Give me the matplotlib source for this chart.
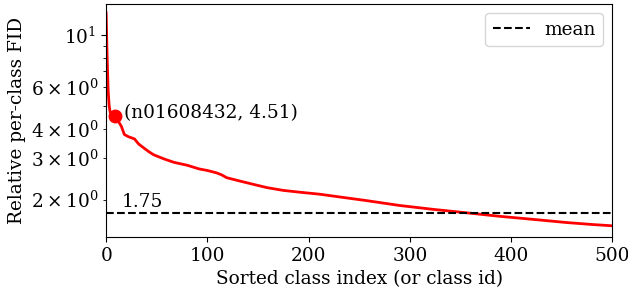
import matplotlib.pyplot as plt
import numpy as np

plt.rcParams["font.family"] = "DejaVu Serif"
plt.rcParams["font.size"] = 13.3

# values (sorted class index -> relative FID)
class_idx = [0, 1, 2, 3, 4, 5, 7, 9, 12, 15, 18, 22, 28, 32, 37, 42, 47,
             52, 57, 67, 80, 92, 100, 109, 114, 119, 132, 146, 159, 175,
             192, 211, 225, 258, 290, 323, 356, 389, 422, 455, 480, 500]
rel_fid = [12.4, 8.0, 5.8, 5.0, 4.7, 4.6, 4.55, 4.51, 4.3, 4.1, 3.78, 3.7,
           3.62, 3.45, 3.32, 3.2, 3.1, 3.04, 2.98, 2.88, 2.80, 2.70, 2.66,
           2.60, 2.55, 2.48, 2.40, 2.32, 2.25, 2.19, 2.15, 2.11, 2.07, 1.98,
           1.89, 1.82, 1.76, 1.70, 1.65, 1.60, 1.57, 1.55]
mean_fid = 1.75
hl_idx, hl_val, hl_name = 9, 4.51, "n01608432"

fig = plt.figure(figsize=(6.28, 2.94), dpi=100)
ax = fig.add_axes([0.169, 0.194, 0.806, 0.792])

ax.plot(class_idx, rel_fid, color="red", lw=2)
ax.axhline(mean_fid, color="black", ls="--", lw=1.5, label="mean")
ax.plot([hl_idx], [hl_val], "o", color="red", ms=9)
ax.text(hl_idx + 9, hl_val * 1.03, f"({hl_name}, {hl_val})", va="center")
ax.text(15, mean_fid * 1.02, f"{mean_fid}", va="bottom")

ax.set_yscale("log")
ax.set_xlim(0, 500)
ax.set_ylim(1.39, 13.5)
ax.set_xlabel("Sorted class index (or class id)")
ax.set_ylabel("Relative per-class FID")
ax.legend(loc="upper right")

fig.savefig("out.png", dpi=100)
